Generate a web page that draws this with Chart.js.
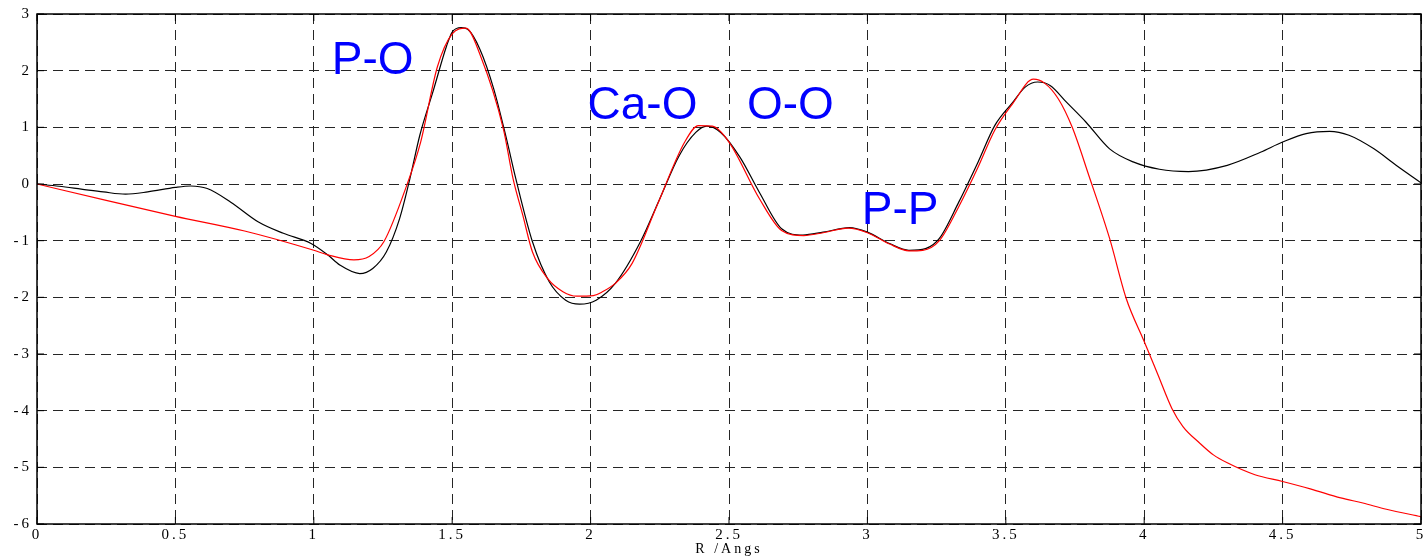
<!DOCTYPE html>
<html>
<head>
<meta charset="utf-8">
<script src="https://cdn.jsdelivr.net/npm/chart.js@4.4.0/dist/chart.umd.min.js"></script>
<style>
  html, body { margin: 0; padding: 0; background: #fff; }
  canvas { display: block; }
</style>
</head>
<body>
<canvas id="rdf" width="1427" height="559"></canvas>
<script>
// measured curve (black)
const measuredR = [0, 0.08, 0.16, 0.24, 0.32, 0.40, 0.50, 0.555, 0.615, 0.70, 0.80, 0.89, 0.99, 1.05, 1.094, 1.166, 1.213, 1.262, 1.31, 1.347, 1.383, 1.43, 1.48, 1.50, 1.533, 1.556, 1.60, 1.65, 1.696, 1.73, 1.79, 1.85, 1.91, 1.96, 2.02, 2.09, 2.18, 2.25, 2.32, 2.38, 2.42, 2.47, 2.54, 2.61, 2.69, 2.767, 2.84, 2.935, 3.0, 3.08, 3.15, 3.21, 3.26, 3.33, 3.40, 3.46, 3.525, 3.57, 3.615, 3.66, 3.72, 3.79, 3.875, 3.96, 4.055, 4.16, 4.30, 4.42, 4.50, 4.585, 4.67, 4.74, 4.83, 4.91, 5.0];
const measuredG = [0, -0.04, -0.09, -0.14, -0.18, -0.14, -0.06, -0.035, -0.08, -0.32, -0.67, -0.87, -1.05, -1.25, -1.43, -1.58, -1.49, -1.2, -0.61, 0.09, 0.86, 1.62, 2.44, 2.68, 2.76, 2.73, 2.38, 1.68, 0.80, 0.09, -1.02, -1.72, -2.05, -2.12, -2.05, -1.75, -1.02, -0.26, 0.5, 0.91, 1.02, 0.91, 0.47, -0.15, -0.79, -0.9, -0.85, -0.77, -0.85, -1.05, -1.17, -1.14, -0.96, -0.32, 0.39, 1.03, 1.44, 1.71, 1.80, 1.74, 1.44, 1.09, 0.62, 0.39, 0.26, 0.22, 0.33, 0.56, 0.74, 0.89, 0.93, 0.86, 0.62, 0.33, 0.02];

// fitted curve (red)
const fittedR = [0, 0.25, 0.5, 0.75, 1.0, 1.05, 1.145, 1.2, 1.253, 1.336, 1.386, 1.446, 1.5, 1.55, 1.6, 1.685, 1.72, 1.755, 1.79, 1.845, 1.9, 1.95, 2.01, 2.04, 2.09, 2.15, 2.24, 2.34, 2.39, 2.44, 2.5, 2.61, 2.69, 2.77, 2.84, 2.93, 3.0, 3.08, 3.15, 3.2, 3.26, 3.33, 3.40, 3.46, 3.525, 3.6, 3.64, 3.69, 3.74, 3.80, 3.875, 3.935, 4.0, 4.05, 4.10, 4.14, 4.2, 4.25, 4.30, 4.40, 4.50, 4.60, 4.71, 4.79, 4.875, 5.0];
const fittedG = [0, -0.29, -0.57, -0.83, -1.17, -1.25, -1.34, -1.28, -1.02, -0.02, 0.74, 2.06, 2.65, 2.75, 2.29, 0.97, 0.09, -0.55, -1.2, -1.67, -1.9, -1.98, -1.97, -1.91, -1.75, -1.40, -0.38, 0.74, 1.03, 1.02, 0.74, -0.26, -0.82, -0.91, -0.86, -0.78, -0.86, -1.06, -1.18, -1.17, -1.0, -0.4, 0.3, 0.95, 1.42, 1.85, 1.78, 1.50, 1.0, 0.15, -0.96, -2.02, -2.78, -3.37, -3.96, -4.28, -4.57, -4.78, -4.92, -5.13, -5.25, -5.38, -5.54, -5.63, -5.74, -5.87];

const xTicks = [0, 0.5, 1, 1.5, 2, 2.5, 3, 3.5, 4, 4.5, 5];
const xTickLabels = ["0", "0.5", "1", "1.5", "2", "2.5", "3", "3.5", "4", "4.5", "5"];
const yTicks = [-6, -5, -4, -3, -2, -1, 0, 1, 2, 3];
const yTickLabels = ["-6", "-5", "-4", "-3", "-2", "-1", "0", "1", "2", "3"];

// peak assignments, placed at (R, G) of the text's left baseline
const peakNames = ["P-O", "Ca-O", "O-O", "P-P"];
const peakR = [1.065, 1.989, 2.565, 2.98];
const peakG = [1.94, 1.15, 1.15, -0.71];

const toPoints = (xs, ys) => xs.map((x, i) => ({ x: x, y: ys[i] }));

const serif = "'Liberation Serif', 'Times New Roman', serif";

const gridStyle = {
  color: "#262626",
  lineWidth: 1,
  drawTicks: false,
};

const frame = {
  id: "frame",
  beforeDraw(chart) {
    // the axis numbers are set wide
    chart.ctx.letterSpacing = "3px";
  },
  afterDraw(chart) {
    const { ctx, chartArea: a, scales } = chart;
    ctx.save();
    ctx.letterSpacing = "0px";
    ctx.strokeStyle = "#000";
    ctx.lineWidth = 1.5;
    ctx.strokeRect(a.left, a.top, a.right - a.left, a.bottom - a.top);

    // short inward tick marks on all four sides
    ctx.lineWidth = 1;
    ctx.beginPath();
    xTicks.forEach((v) => {
      const px = scales.x.getPixelForValue(v);
      ctx.moveTo(px, a.bottom);
      ctx.lineTo(px, a.bottom - 7);
      ctx.moveTo(px, a.top);
      ctx.lineTo(px, a.top + 7);
    });
    yTicks.forEach((v) => {
      const py = scales.y.getPixelForValue(v);
      ctx.moveTo(a.left, py);
      ctx.lineTo(a.left + 7, py);
      ctx.moveTo(a.right, py);
      ctx.lineTo(a.right - 7, py);
    });
    ctx.stroke();

    ctx.fillStyle = "#0000ff";
    ctx.font = "46px 'Liberation Sans', Arial, sans-serif";
    ctx.textAlign = "left";
    ctx.textBaseline = "alphabetic";
    peakNames.forEach((name, i) => {
      ctx.fillText(name, scales.x.getPixelForValue(peakR[i]), scales.y.getPixelForValue(peakG[i]));
    });
    ctx.restore();
  },
};

new Chart(document.getElementById("rdf"), {
  type: "line",
  data: {
    datasets: [
      {
        label: "fitted",
        data: toPoints(fittedR, fittedG),
        borderColor: "#ff0000",
        borderWidth: 1.2,
        pointRadius: 0,
        cubicInterpolationMode: "monotone",
      },
      {
        label: "measured",
        data: toPoints(measuredR, measuredG),
        borderColor: "#000000",
        borderWidth: 1.2,
        pointRadius: 0,
        cubicInterpolationMode: "monotone",
      },
    ],
  },
  options: {
    responsive: false,
    animation: false,
    layout: { padding: { top: 12, right: 6, left: 0, bottom: 0 } },
    plugins: { legend: { display: false }, tooltip: { enabled: false } },
    scales: {
      x: {
        type: "linear",
        min: 0,
        max: 5,
        afterBuildTicks: (s) => { s.ticks = xTicks.map((v) => ({ value: v })); },
        afterFit: (s) => { s.height = 35; },
        grid: gridStyle,
        border: { display: false, dash: [10, 6] },
        ticks: {
          autoSkip: false,
          maxRotation: 0,
          padding: 2,
          color: "#000",
          font: { family: serif, size: 15 },
          callback: (v) => xTickLabels[xTicks.indexOf(v)],
        },
        title: {
          display: true,
          text: "R /Angs",
          color: "#000",
          padding: { top: 0, bottom: 1 },
          font: { family: serif, size: 14 },
        },
      },
      y: {
        type: "linear",
        min: -6,
        max: 3,
        afterBuildTicks: (s) => { s.ticks = yTicks.map((v) => ({ value: v })); },
        afterFit: (s) => { s.width = 37; },
        grid: gridStyle,
        border: { display: false, dash: [10, 6] },
        ticks: {
          autoSkip: false,
          padding: 5,
          color: "#000",
          font: { family: serif, size: 15 },
          callback: (v) => yTickLabels[yTicks.indexOf(v)],
        },
      },
    },
  },
  plugins: [frame],
});
</script>
</body>
</html>
